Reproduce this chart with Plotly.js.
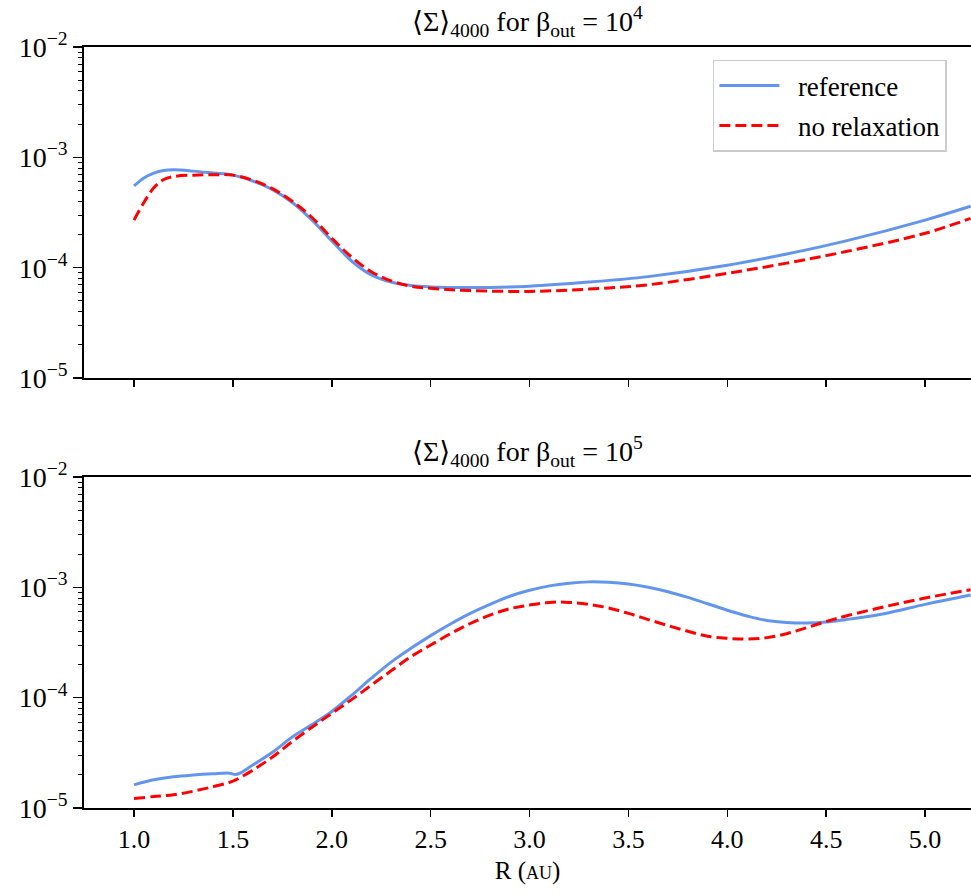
<!DOCTYPE html>
<html>
<head>
<meta charset="utf-8">
<script src="https://cdn.plot.ly/plotly-3.0.1.min.js"></script>
<style>html,body{margin:0;padding:0;background:#fff;}</style>
</head>
<body>
<div id="chart" style="width:971px;height:894px;"></div>
<script>
// Top panel (beta_out = 1e4)
const rTop = [1.0,1.05,1.1,1.15,1.2,1.3,1.4,1.5,1.6,1.7,1.8,1.9,2.0,2.1,2.2,2.3,2.4,2.5,2.7,3.0,3.3,3.6,4.0,4.3,4.6,5.0,5.23];
const refTop = [5.5e-4,6.5e-4,7.2e-4,7.6e-4,7.7e-4,7.5e-4,7.2e-4,6.9e-4,6.1e-4,5.1e-4,3.9e-4,2.7e-4,1.75e-4,1.15e-4,8.6e-5,7.4e-5,6.9e-5,6.7e-5,6.6e-5,6.8e-5,7.4e-5,8.3e-5,1.05e-4,1.33e-4,1.75e-4,2.7e-4,3.6e-4];
const noRelTop = [2.7e-4,3.9e-4,5.3e-4,6.3e-4,6.7e-4,6.9e-4,6.95e-4,6.9e-4,6.2e-4,5.2e-4,4.0e-4,2.85e-4,1.85e-4,1.25e-4,9.2e-5,7.6e-5,6.8e-5,6.5e-5,6.2e-5,6.1e-5,6.4e-5,7.0e-5,8.9e-5,1.1e-4,1.4e-4,2.05e-4,2.8e-4];

// Bottom panel (beta_out = 1e5)
const rBot = [1.0,1.1,1.2,1.3,1.4,1.48,1.52,1.6,1.7,1.8,1.9,2.0,2.1,2.2,2.3,2.4,2.5,2.6,2.7,2.8,2.9,3.0,3.1,3.2,3.3,3.4,3.5,3.6,3.7,3.8,3.9,4.0,4.1,4.2,4.3,4.4,4.5,4.6,4.8,5.0,5.23];
const refBot = [1.62e-5,1.8e-5,1.92e-5,1.99e-5,2.04e-5,2.07e-5,2.02e-5,2.45e-5,3.2e-5,4.4e-5,5.7e-5,7.5e-5,1.05e-4,1.5e-4,2.1e-4,2.8e-4,3.65e-4,4.65e-4,5.8e-4,7.0e-4,8.3e-4,9.4e-4,1.03e-3,1.09e-3,1.12e-3,1.11e-3,1.07e-3,1.0e-3,9.1e-4,8.1e-4,7.1e-4,6.2e-4,5.5e-4,5.0e-4,4.8e-4,4.75e-4,4.85e-4,5.1e-4,5.8e-4,7.0e-4,8.5e-4];
const noRelBot = [1.22e-5,1.27e-5,1.32e-5,1.42e-5,1.56e-5,1.7e-5,1.82e-5,2.2e-5,2.9e-5,4.0e-5,5.4e-5,7.2e-5,9.6e-5,1.3e-4,1.75e-4,2.35e-4,3.0e-4,3.8e-4,4.7e-4,5.6e-4,6.4e-4,6.9e-4,7.3e-4,7.3e-4,7.0e-4,6.5e-4,5.8e-4,5.1e-4,4.5e-4,4.0e-4,3.6e-4,3.45e-4,3.4e-4,3.5e-4,3.8e-4,4.3e-4,4.9e-4,5.5e-4,6.7e-4,8.0e-4,9.5e-4];

const xTicks = [1.0,1.5,2.0,2.5,3.0,3.5,4.0,4.5,5.0];
const yMajor = [1e-5,1e-4,1e-3,1e-2];
const yMajorText = ['10<sup>−5</sup>','10<sup>−4</sup>','10<sup>−3</sup>','10<sup>−2</sup>'];
const panelTitles = ['⟨Σ⟩<sub>4000</sub> for β<sub>out</sub> = 10<sup>4</sup>','⟨Σ⟩<sub>4000</sub> for β<sub>out</sub> = 10<sup>5</sup>'];
const seriesNames = ['reference','no relaxation'];

const yMinor = [];
for (let e=-5;e<-2;e++){for(let m=2;m<10;m++){yMinor.push(m*Math.pow(10,e));}}

const FONT = 'Liberation Serif, DejaVu Serif, serif';
const blue = '#6495ED', red = '#FF0000';
const pad = '\u2002';

const traces = [
  {x:rTop,y:refTop,xaxis:'x',yaxis:'y',mode:'lines',name:pad+seriesNames[0],legendgroup:'a',line:{color:blue,width:3,shape:'spline'}},
  {x:rTop,y:noRelTop,xaxis:'x',yaxis:'y',mode:'lines',name:pad+seriesNames[1],legendgroup:'b',line:{color:red,width:3,dash:'11px,5px',shape:'spline'}},
  {x:rBot,y:refBot,xaxis:'x2',yaxis:'y2',mode:'lines',name:seriesNames[0],showlegend:false,line:{color:blue,width:3,shape:'spline'}},
  {x:rBot,y:noRelBot,xaxis:'x2',yaxis:'y2',mode:'lines',name:seriesNames[1],showlegend:false,line:{color:red,width:3,dash:'11px,5px',shape:'spline'}}
];

function xax(anchor, labels){
  return {range:[0.747,5.232],anchor:anchor,showline:true,mirror:true,linecolor:'#000',linewidth:1.8,
    ticks:'outside',ticklen:7,tickwidth:1.5,tickcolor:'#000',tickvals:xTicks,
    ticktext:xTicks.map(v=>v.toFixed(1)),showticklabels:labels,showgrid:false,zeroline:false,
    tickfont:{family:FONT,size:26,color:'#000'}};
}
function yax(domain, anchor){
  return {type:'log',range:[-5,-2],domain:domain,anchor:anchor,showline:true,mirror:false,linecolor:'#000',linewidth:1.8,
    ticks:'outside',ticklen:9,tickwidth:1.5,tickcolor:'#000',tickmode:'array',tickvals:yMajor,ticktext:yMajorText,
    minor:{tickmode:'array',tickvals:yMinor,ticks:'outside',ticklen:4,tickwidth:1,tickcolor:'#000',showgrid:false},
    showgrid:false,zeroline:false,tickfont:{family:FONT,size:28,color:'#000'}};
}

const layout = {
  width:971,height:894,margin:{l:84,r:0,t:47,b:86},
  paper_bgcolor:'#fff',plot_bgcolor:'#fff',
  font:{family:FONT,color:'#000'},
  xaxis:xax('y',false),
  yaxis:yax([0.565,1],'x'),
  xaxis2:Object.assign(xax('y2',true),{title:{text:'R (<span style="font-size:18px">AU</span>)',font:{family:FONT,size:25,color:'#000'},standoff:8}}),
  yaxis2:yax([0,0.435],'x2'),
  showlegend:true,
  legend:{x:0.709,y:0.983,xanchor:'left',yanchor:'top',bgcolor:'rgba(255,255,255,0.9)',bordercolor:'#cccccc',borderwidth:1.5,
    font:{family:FONT,size:27,color:'#000'},tracegroupgap:2,itemwidth:60},
  annotations:[
    {text:panelTitles[0],xref:'paper',yref:'paper',x:0.5,y:1,yshift:4,xanchor:'center',yanchor:'bottom',showarrow:false,font:{family:FONT,size:28,color:'#000'}},
    {text:panelTitles[1],xref:'paper',yref:'paper',x:0.5,y:0.435,yshift:4,xanchor:'center',yanchor:'bottom',showarrow:false,font:{family:FONT,size:28,color:'#000'}}
  ]
};

Plotly.newPlot('chart',traces,layout,{displayModeBar:false,staticPlot:true});
</script>
</body>
</html>
